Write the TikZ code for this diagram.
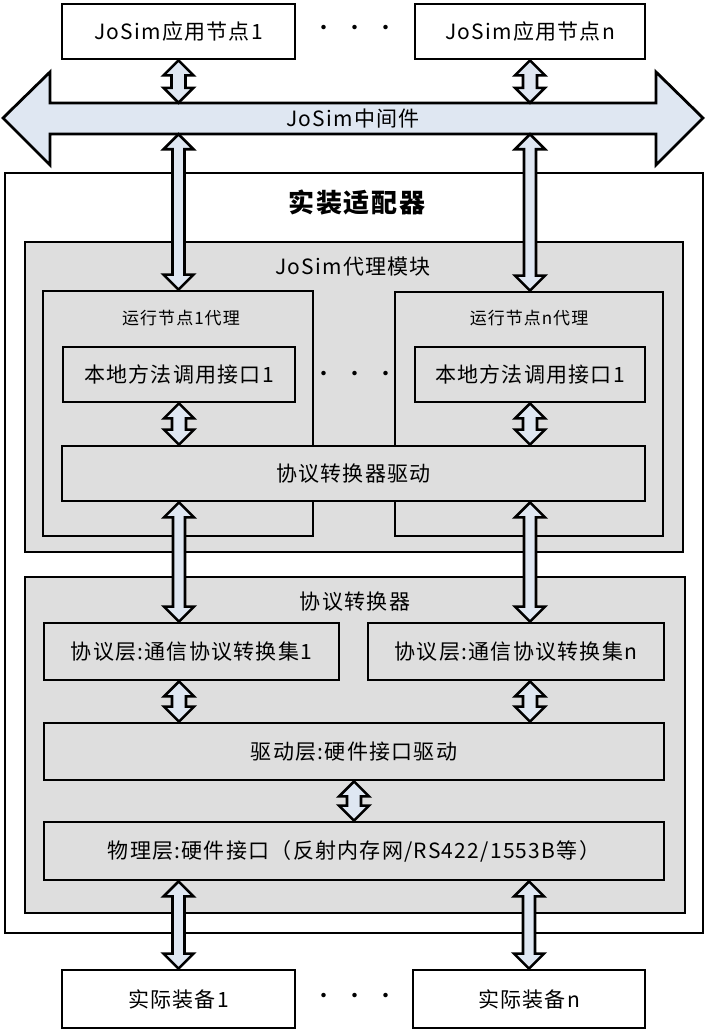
\documentclass[tikz,border=0pt]{standalone}
\usepackage{fontspec}
\setmainfont{Noto Sans CJK SC}[LetterSpace=6]
\definecolor{adpGray}{HTML}{DEDEDE}
\definecolor{adpBlue}{HTML}{DFE7F2}
\usetikzlibrary{calc}

\tikzset{
	whitebox/.style={draw, line width=2.8pt, fill=white, inner sep=0pt,
		font=\fontsize{21}{25}\selectfont},
	graybox/.style={whitebox, fill=adpGray},
	label/.style={inner sep=0pt, font=\fontsize{21}{25}\selectfont},
	biarrow/.style 2 args={draw, line width=2.6pt, fill=adpBlue, line join=miter,
		to path={let \p1=(\tikztostart), \p2=(\tikztotarget) in
			(\x1,\y1) -- (\x1+15pt,\y1-#1) -- (\x1+#2,\y1-#1) -- (\x1+#2,\y2+#1)
			-- (\x1+15pt,\y2+#1) -- (\x1,\y2) -- (\x1-15pt,\y2+#1) -- (\x1-#2,\y2+#1)
			-- (\x1-#2,\y1-#1) -- (\x1-15pt,\y1-#1) -- cycle}},
	shortarrow/.style={biarrow={15pt}{7pt}},
	longarrow/.style={biarrow={15pt}{6pt}}
}

\begin{document}
\begin{tikzpicture}[x=1pt, y=-1pt]
	\useasboundingbox (0,0) rectangle (706,1031);
	% adapter frame
	\node[whitebox, minimum width=698pt, minimum height=760pt] (adp) at (354,553) {};
	\node[label, font=\fontsize{26}{30}\selectfont\bfseries] (adptitle) at (357,203) {实装适配器};
	% proxy module
	\node[graybox, minimum width=658pt, minimum height=310pt] (pxm) at (354,397) {};
	\node[label] (pxmtitle) at (353,267) {JoSim代理模块};
	\node[graybox, minimum width=270pt, minimum height=245pt] (px1) at (178,413.5) {};
	\node[graybox, minimum width=268pt, minimum height=244pt] (pxn) at (529,414) {};
	\node[label, font=\fontsize{17}{21}\selectfont] (px1title) at (181,318) {运行节点1代理};
	\node[label, font=\fontsize{17}{21}\selectfont] (pxntitle) at (529,318) {运行节点n代理};
	\node[graybox, minimum width=232pt, minimum height=55pt] (loc1) at (179,374.5) {本地方法调用接口1};
	\node[graybox, minimum width=230pt, minimum height=55pt] (locn) at (530,374.5) {本地方法调用接口1};
	\node[label] (dots2) at (355,376) {·\hspace{10pt}·\hspace{10pt}·};
	\node[graybox, minimum width=583pt, minimum height=55pt] (drv) at (353.5,473.5) {协议转换器驱动};
	% protocol converter
	\node[graybox, minimum width=660pt, minimum height=336pt] (cvt) at (355,745) {};
	\node[label] (cvttitle) at (355,602) {协议转换器};
	\node[graybox, minimum width=295pt, minimum height=57pt] (prot1) at (191.5,651.5) {协议层:通信协议转换集1};
	\node[graybox, minimum width=296pt, minimum height=57pt] (protn) at (516,651.5) {协议层:通信协议转换集n};
	\node[graybox, minimum width=620pt, minimum height=57pt] (hwdrv) at (354,751.5) {驱动层:硬件接口驱动};
	\node[graybox, minimum width=620pt, minimum height=58pt] (phy) at (354,851) {物理层:硬件接口（反射内存网/RS422/1553B等）};
	% application nodes and devices
	\node[whitebox, minimum width=233pt, minimum height=55pt] (app1) at (178.5,31.5) {JoSim应用节点1};
	\node[whitebox, minimum width=230pt, minimum height=55pt] (appn) at (530,31.5) {JoSim应用节点n};
	\node[label] (dots1) at (355,30) {·\hspace{10pt}·\hspace{10pt}·};
	\node[whitebox, minimum width=233pt, minimum height=58pt] (dev1) at (178.5,999) {实际装备1};
	\node[whitebox, minimum width=232pt, minimum height=58pt] (devn) at (529,999) {实际装备n};
	\node[label] (dots3) at (355,998) {·\hspace{10pt}·\hspace{10pt}·};
	% middleware band
	\draw[line width=2.8pt, fill=adpBlue, line join=miter] (3,118) -- (50,72) -- (50,103) -- (656,103)
		-- (656,72) -- (703,118) -- (656,165) -- (656,134) -- (50,134) -- (50,165) -- cycle;
	\node[label, minimum width=606pt, minimum height=31pt] (mw) at (353,118.5) {JoSim中间件};
	% connectors
	\draw[shortarrow] (app1.south) to (app1.south |- mw.north);
	\draw[shortarrow] (appn.south) to (appn.south |- mw.north);
	\draw[longarrow] (app1.south |- mw.south) to (app1.south |- px1.north);
	\draw[longarrow] (appn.south |- mw.south) to (appn.south |- pxn.north);
	\draw[shortarrow] (loc1.south) to (loc1.south |- drv.north);
	\draw[shortarrow] (locn.south) to (locn.south |- drv.north);
	\draw[longarrow] (loc1.south |- drv.south) to (loc1.south |- prot1.north);
	\draw[longarrow] (locn.south |- drv.south) to (locn.south |- protn.north);
	\draw[shortarrow] (loc1.south |- prot1.south) to (loc1.south |- hwdrv.north);
	\draw[shortarrow] (locn.south |- protn.south) to (locn.south |- hwdrv.north);
	\draw[shortarrow] (hwdrv.south) to (phy.north);
	\draw[longarrow] (dev1.north |- phy.south) to (dev1.north);
	\draw[longarrow] (devn.north |- phy.south) to (devn.north);
\end{tikzpicture}
\end{document}
